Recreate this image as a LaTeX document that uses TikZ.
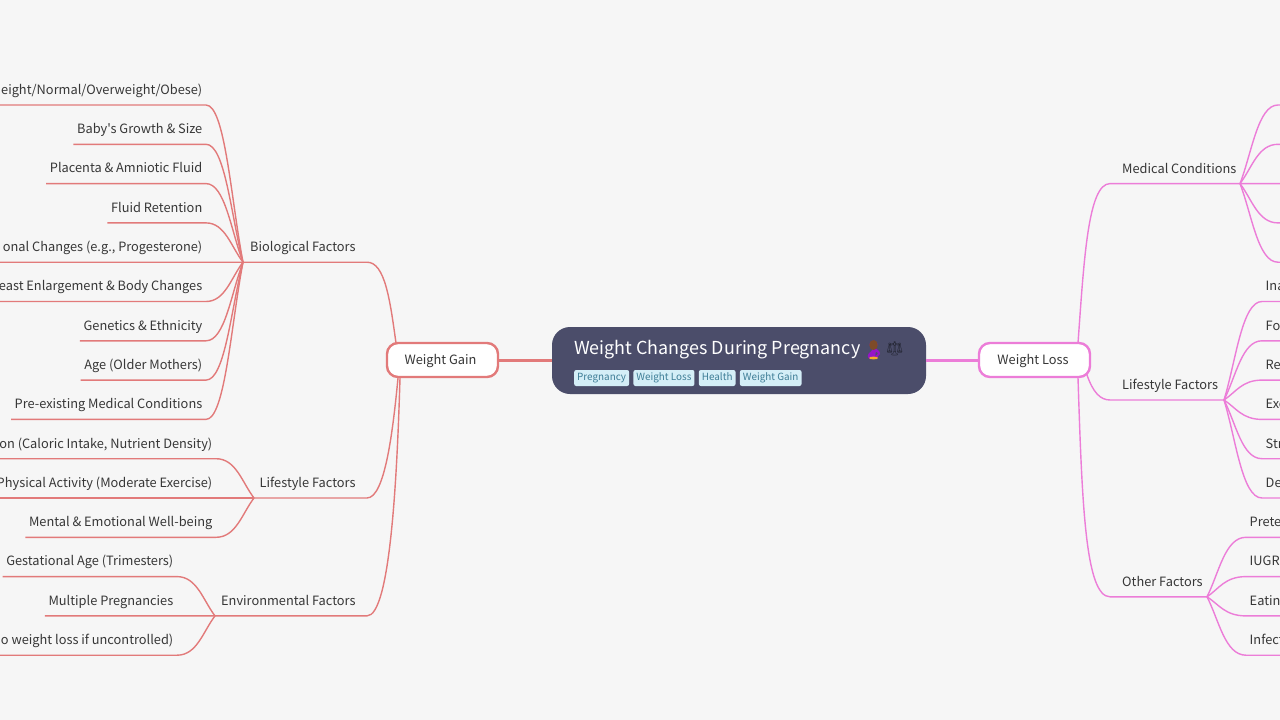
\documentclass[tikz,border=0pt]{standalone}
\usepackage{fontspec}
\setmainfont{Noto Sans CJK SC}[Ligatures=TeXOff]
\newfontfamily\emojifont{Noto Emoji}
\usetikzlibrary{positioning, calc}
\definecolor{gainred}{RGB}{226, 122, 122}
\definecolor{losspink}{RGB}{236, 125, 216}
\definecolor{rootnavy}{RGB}{75, 77, 106}
\definecolor{tagblue}{RGB}{212, 238, 247}
\definecolor{tagtext}{RGB}{62, 125, 150}
\definecolor{labelgray}{RGB}{55, 55, 55}
\definecolor{pagegray}{RGB}{246, 246, 246}
\definecolor{dresspurple}{RGB}{150, 20, 200}
\definecolor{hairbrown}{RGB}{125, 75, 40}
\definecolor{handorange}{RGB}{245, 170, 40}

% one branch from a junction to the underline of a leaf, left and right side
\newcommand{\leftbranch}[2]{
  \draw (#1) .. controls ($(#1)!0.4!(#1 |- #2.south)+(-12,0)$) and ($(#1 |- #2.south)+(-18,0)$) .. (#2.south east) -- (#2.south west);
}
\newcommand{\rightbranch}[2]{
  \draw (#1) .. controls ($(#1)!0.4!(#1 |- #2.south)+(12,0)$) and ($(#1 |- #2.south)+(18,0)$) .. (#2.south west) -- (edgeR |- #2.south);
}

\begin{document}
\begin{tikzpicture}[
  x=1pt, y=-1pt,
  every node/.style={font=\fontsize{12.8}{16}\selectfont, text=labelgray},
  textlabel/.style={text height=10pt, text depth=3pt, inner xsep=3pt, inner ysep=7pt},
  leafL/.style={textlabel, anchor=south east},
  leafR/.style={textlabel, anchor=south west},
  gainline/.style={gainred, line width=1.4pt},
  lossline/.style={losspink, line width=1.4pt},
  mainbox/.style={fill=white, line width=2.4pt, rounded corners=11pt, minimum width=111pt, minimum height=34pt, inner sep=0pt, text height=11pt, text depth=3pt},
  tagbox/.style={fill=tagblue, text=tagtext, font=\fontsize{9.9}{12}\selectfont, rounded corners=2pt, inner xsep=3pt, inner ysep=0pt, minimum height=16pt, text height=8pt, text depth=2.5pt, anchor=west}
]
  \clip (0,0) rectangle (1280,720);
  \fill[pagegray] (0,0) rectangle (1280,720);
  \coordinate (edgeL) at (0,0);
  \coordinate (edgeR) at (1285,0);

  % Centre
  \fill[rootnavy, rounded corners=18pt] (552,327) rectangle (926,394);
  \node[anchor=west, text=white, font=\fontsize{17.9}{22}\selectfont, inner sep=0pt] (title) at (574,350) {Weight Changes During Pregnancy};
  \node[text=dresspurple, font=\emojifont\fontsize{18}{20}\selectfont, inner sep=0pt] (woman) at (874,350) {^^^^^^01f930};
  \fill[hairbrown] ($(woman.center)+(-0.5,-5)$) ellipse (4.2 and 5);
  \fill[handorange] ($(woman.center)+(-0.5,8)$) ellipse (4.5 and 1.4);
  \node[right=0pt of woman, yshift=1pt, text=rootnavy!50!black, font=\emojifont\fontsize{14}{20}\selectfont, inner sep=0pt] (scales) {^^^^2696};
  \node[tagbox] (tagA) at (574,378) {Pregnancy};
  \node[tagbox, right=4pt of tagA] (tagB) {Weight Loss};
  \node[tagbox, right=4pt of tagB] (tagC) {Health};
  \node[tagbox, right=4pt of tagC] (tagD) {Weight Gain};

  % Main topics
  \node[mainbox, draw=gainred] (gain) at (442.5,360) {\hspace*{-4pt}Weight Gain};
  \node[mainbox, draw=losspink] (loss) at (1034.5,360) {\hspace*{-3pt}Weight Loss};
  \draw[gainred, line width=3pt] (gain.east) -- (552,360);
  \draw[losspink, line width=3pt] (926,360) -- (loss.west);

  % Weight gain side
  \coordinate (jBio) at (243,262.2);
  \coordinate (jLifeL) at (254,498);
  \coordinate (jEnv) at (215,615.9);
  \node[leafR] (bio) at (247,261.4) {Biological Factors};
  \node[leafR] (lifeL) at (256.5,498) {Lifestyle Factors};
  \node[leafR] (env) at (218,615.9) {Environmental Factors};
  \begin{scope}[gainline]
    \draw (396,343) .. controls (390,300) and (385,262.2) .. (367,262.2) -- (jBio);
    \draw (398,378) .. controls (393,430) and (385,498) .. (367,498) -- (jLifeL);
    \draw (400,378) .. controls (397,480) and (390,615.9) .. (367,615.9) -- (jEnv);
    \foreach \nm/\txt/\y in {
      bioA/{eight/Normal/Overweight/Obese)}/105,
      bioB/{Baby's Growth \& Size}/144.3,
      bioC/{Placenta \& Amniotic Fluid}/183.6,
      bioD/{Fluid Retention}/222.9,
      bioE/{onal Changes (e.g., Progesterone)}/262.2,
      bioF/{east Enlargement \& Body Changes}/301.5,
      bioG/{Genetics \& Ethnicity}/340.8,
      bioH/{Age (Older Mothers)}/380.1,
      bioI/{Pre-existing Medical Conditions}/419.4} {
      \node[leafL] (\nm) at (206,\y) {\txt};
      \leftbranch{jBio}{\nm}
    }
    \foreach \nm/\txt/\y in {
      lifeA/{on (Caloric Intake, Nutrient Density)}/458.7,
      lifeB/{Physical Activity (Moderate Exercise)}/498,
      lifeC/{Mental \& Emotional Well-being}/537.3} {
      \node[leafL] (\nm) at (216,\y) {\txt};
      \leftbranch{jLifeL}{\nm}
    }
    \foreach \nm/\txt/\y in {
      envA/{Gestational Age (Trimesters)}/576.6,
      envB/{Multiple Pregnancies}/615.9,
      envC/{o weight loss if uncontrolled)}/655.2} {
      \node[leafL] (\nm) at (177,\y) {\txt};
      \leftbranch{jEnv}{\nm}
    }
    % leaves cut by the page edge
    \foreach \nm in {bioA,bioE,bioF,lifeA,lifeB,envC} {
      \draw (\nm.south west) -- (edgeL |- \nm.south);
    }
  \end{scope}

  % Weight loss side
  \coordinate (jMed) at (1240,183.6);
  \coordinate (jLifeR) at (1224,400);
  \coordinate (jOther) at (1207,596.8);
  \node[leafR] (med) at (1119,183.6) {Medical Conditions};
  \node[leafR] (lifeR) at (1119,400) {Lifestyle Factors};
  \node[leafR] (other) at (1119,596.8) {Other Factors};
  \begin{scope}[lossline]
    \draw (1078,343) .. controls (1084,260) and (1088,183.6) .. (1110,183.6) -- (jMed);
    \draw (1087,375) .. controls (1093,392) and (1100,400) .. (1110,400) -- (jLifeR);
    \draw (1078,378) .. controls (1082,500) and (1085,596.8) .. (1110,596.8) -- (jOther);
    % labels of these lie off the page
    \foreach \nm/\y in {medA/105, medB/144.3, medC/183.6, medD/222.9, medE/262.2} {
      \coordinate (\nm) at (1278,\y);
      \draw (jMed) .. controls ($(jMed)!0.4!(jMed |- \nm)+(12,0)$) and ($(jMed |- \nm)+(18,0)$) .. (\nm) -- (edgeR |- \nm);
    }
    \foreach \nm/\txt/\y in {
      lossA/Ina/301.5, lossB/Fo/340.8, lossC/Re/380.1,
      lossD/Exe/419.4, lossE/Str/458.7, lossF/De/498} {
      \node[leafR] (\nm) at (1262,\y) {\txt};
      \rightbranch{jLifeR}{\nm}
    }
    \foreach \nm/\txt/\y in {
      othA/Prete/537.3, othB/IUGR/576.6, othC/Eatin/615.9, othD/Infect/655.2} {
      \node[leafR] (\nm) at (1246,\y) {\txt};
      \rightbranch{jOther}{\nm}
    }
  \end{scope}
\end{tikzpicture}
\end{document}
